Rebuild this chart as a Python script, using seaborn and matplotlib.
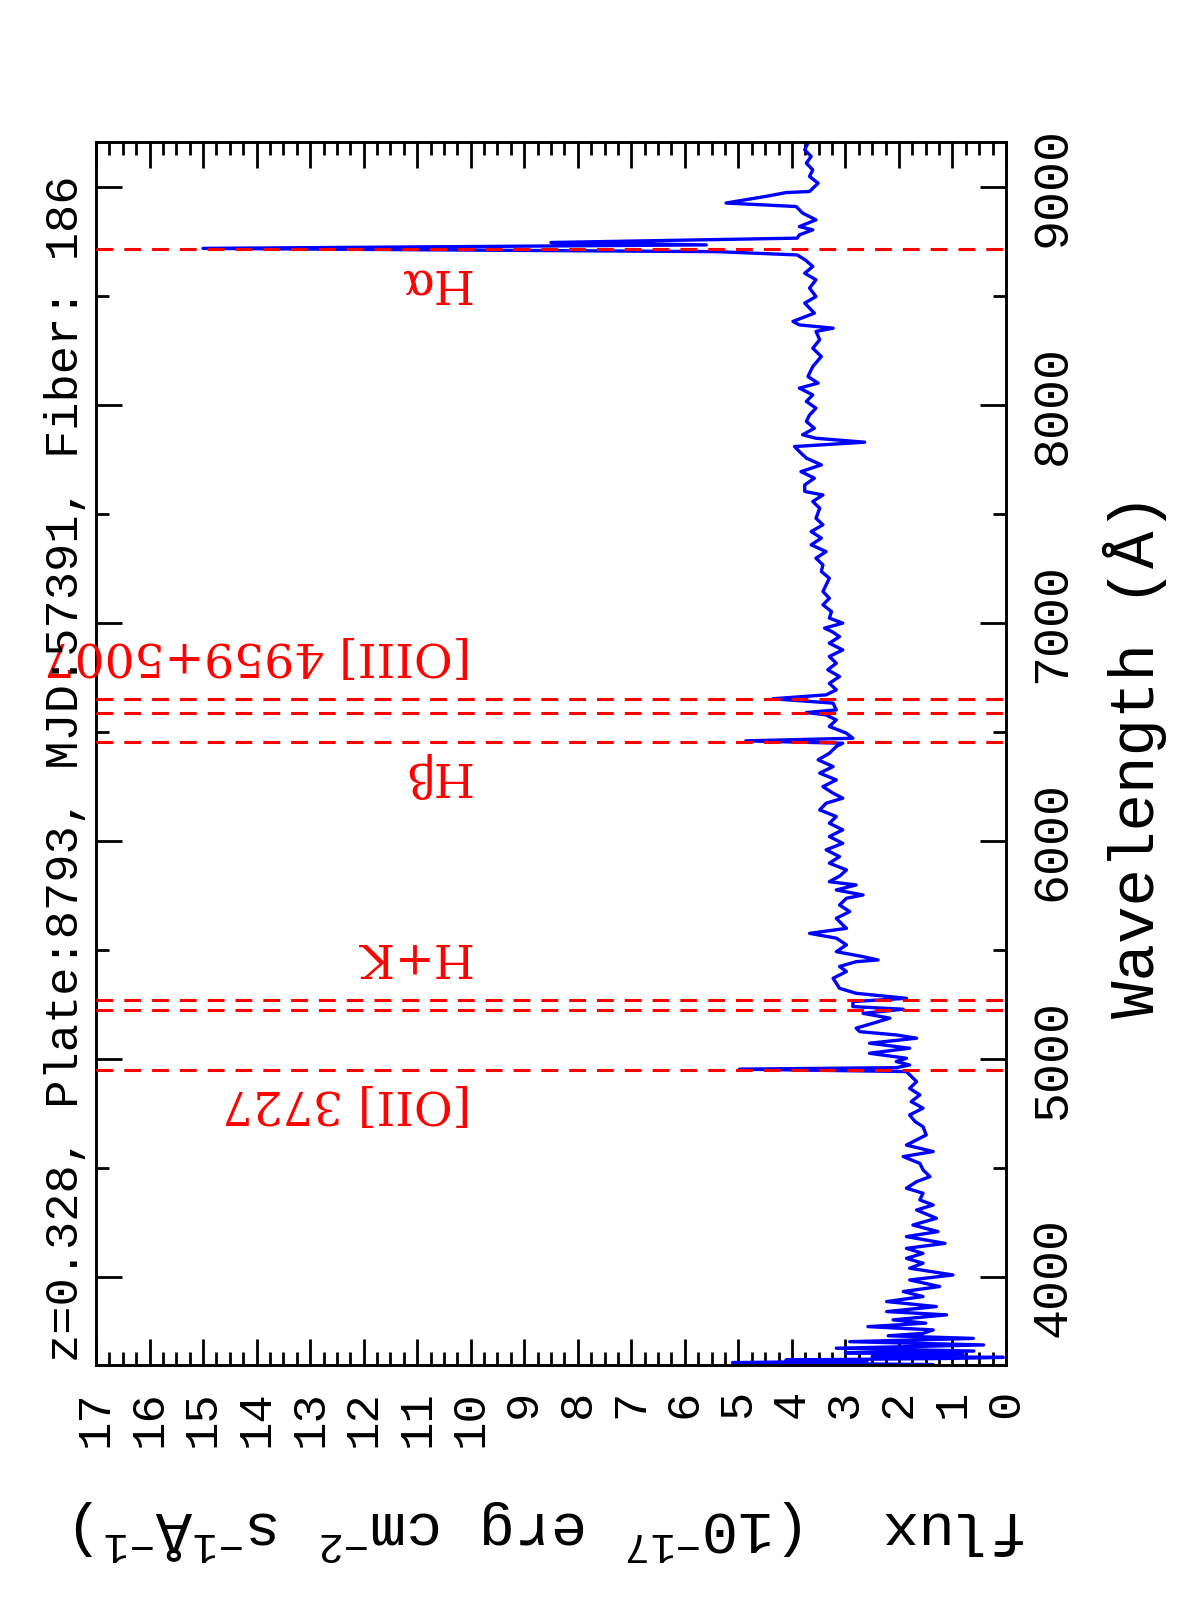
import numpy as np
import pandas as pd
import matplotlib
matplotlib.use("Agg")
import matplotlib.pyplot as plt
import seaborn as sns
from matplotlib.ticker import MultipleLocator, FixedLocator

# ---------------- data ----------------
wave = [3598, 3607, 3614, 3619, 3626, 3631, 3636, 3645, 3652, 3660, 3673, 3688, 3703, 3718,
        3730, 3741, 3757, 3772, 3788, 3803, 3826, 3841, 3864, 3887, 3910, 3933, 3956, 3986,
        4009, 4040, 4063, 4085, 4108, 4131, 4154, 4185, 4208, 4238, 4269, 4307, 4330, 4353,
        4384, 4407, 4437, 4460, 4491, 4521, 4552, 4575, 4605, 4651, 4689, 4713, 4743, 4774,
        4804, 4835, 4865, 4896, 4927, 4942, 4953, 4960, 4972, 4988, 5003, 5026, 5049, 5072,
        5095, 5110, 5125, 5141, 5164, 5187, 5209, 5228, 5240, 5263, 5278, 5301, 5324, 5347,
        5370, 5401, 5424, 5446, 5454, 5469, 5492, 5523, 5554, 5576, 5599, 5615, 5645, 5676,
        5706, 5737, 5752, 5775, 5798, 5813, 5840, 5867, 5898, 5928, 5959, 5989, 6020, 6051,
        6081, 6112, 6142, 6173, 6196, 6219, 6249, 6280, 6311, 6341, 6372, 6402, 6433, 6448,
        6459, 6471, 6494, 6525, 6555, 6578, 6589, 6601, 6632, 6652, 6670, 6693, 6723, 6754,
        6785, 6815, 6846, 6876, 6907, 6937, 6960, 6976, 6999, 7022, 7052, 7083, 7113, 7144,
        7175, 7205, 7236, 7266, 7297, 7327, 7358, 7389, 7419, 7450, 7480, 7526, 7557, 7587,
        7603, 7633, 7664, 7694, 7725, 7756, 7786, 7809, 7829, 7847, 7863, 7893, 7924, 7954,
        7985, 8016, 8046, 8077, 8100, 8130, 8176, 8222, 8260, 8299, 8337, 8352, 8367, 8383,
        8421, 8467, 8497, 8536, 8574, 8604, 8635, 8665, 8688, 8703, 8718, 8734, 8745, 8765,
        8780, 8803, 8818, 8849, 8880, 8910, 8926, 8959, 8974, 8979, 9017, 9048, 9078, 9109,
        9140, 9170, 9201]
flux = [1.36, 5.11, 2.60, 4.11, 1.10, 0.05, 2.50, 0.80, 3.00, 0.60, 3.17, 0.42, 2.92, 0.61,
        2.20, 1.55, 1.36, 2.58, 1.50, 2.11, 1.11, 2.23, 1.30, 2.23, 1.55, 1.92, 1.24, 1.80,
        0.99, 1.80, 1.55, 1.86, 1.55, 1.86, 1.14, 1.86, 1.27, 1.74, 1.30, 1.67, 1.36, 1.61,
        1.55, 1.86, 1.67, 1.42, 1.55, 1.61, 1.92, 1.36, 1.86, 1.49, 1.55, 1.70, 1.80, 1.55,
        1.77, 1.61, 1.80, 1.67, 1.80, 1.86, 4.98, 2.05, 1.80, 2.05, 1.86, 2.55, 1.80, 2.55,
        1.67, 2.05, 2.73, 2.80, 2.48, 2.17, 2.67, 1.92, 2.86, 2.86, 1.86, 2.80, 3.11, 3.17,
        3.23, 2.98, 3.11, 2.80, 2.39, 2.67, 3.17, 2.98, 3.17, 3.67, 2.98, 3.05, 3.17, 2.92,
        3.11, 2.98, 2.67, 3.17, 2.80, 3.30, 3.10, 2.98, 3.30, 3.11, 3.36, 3.05, 3.30, 3.05,
        3.30, 3.17, 3.48, 3.36, 3.05, 3.23, 3.42, 3.17, 3.48, 3.23, 3.51, 3.30, 3.17, 3.05,
        4.86, 2.86, 2.98, 3.30, 3.17, 3.36, 3.73, 3.17, 3.23, 4.36, 3.36, 3.17, 3.30, 3.11,
        3.33, 3.17, 3.30, 3.05, 3.30, 3.11, 3.25, 3.39, 3.05, 3.30, 3.26, 3.42, 3.30, 3.42,
        3.36, 3.30, 3.45, 3.42, 3.55, 3.36, 3.64, 3.45, 3.64, 3.42, 3.55, 3.48, 3.61, 3.42,
        3.76, 3.76, 3.58, 3.83, 3.45, 3.73, 3.86, 3.95, 2.64, 3.55, 3.80, 3.58, 3.73, 3.67,
        3.55, 3.73, 3.61, 3.86, 3.51, 3.70, 3.61, 3.45, 3.61, 3.48, 3.55, 3.23, 3.86, 3.98,
        3.58, 3.76, 3.55, 3.67, 3.55, 3.76, 3.61, 3.75, 3.90, 5.40, 15.00, 5.60, 8.50, 3.90,
        3.86, 3.61, 3.86, 3.55, 3.80, 3.92, 5.23, 4.43, 4.11, 3.67, 3.51, 3.67, 3.61, 3.73,
        3.64, 3.76, 3.70]

redshift = 0.328
line_rest = [3727.0, 3933.7, 3968.5, 4861.3, 4958.9, 5006.8, 6562.8]
label_names = ["[OII] 3727", "H+K", "H\u03b2", "[OIII] 4959+5007", "H\u03b1"]
label_rest = [3727.0, 3968.5, 4861.3, 5006.8, 6562.8]
label_side = [-1, 1, -1, 1, -1]

title = "z=0.328, Plate:8793, MJD:57391, Fiber: 186"
xlabel = "Wavelength (\u00c5)"
ylabel = "flux  (10$^{-17}$ erg cm$^{-2}$ s$^{-1}$\u00c5$^{-1}$)"
flux_ticks = list(range(0, 18))
wave_ticks = [4000, 5000, 6000, 7000, 8000, 9000]

# ---------------- style ----------------
sns.set_theme(style="ticks")
plt.rcParams['font.family'] = ['Liberation Mono', 'DejaVu Sans']
plt.rcParams['mathtext.fontset'] = 'custom'
plt.rcParams['mathtext.rm'] = 'Liberation Mono'
plt.rcParams['mathtext.it'] = 'Liberation Mono'
plt.rcParams['mathtext.bf'] = 'Liberation Mono'

W, H = 1196, 1600
fig = plt.figure(figsize=(W / 100, H / 100), dpi=100)
fig.patch.set_facecolor('white')
ax_l, ax_r, ax_t, ax_b = 96, 1006, 142, 1365
ax = fig.add_axes([ax_l / W, 1 - ax_b / H, (ax_r - ax_l) / W, (ax_b - ax_t) / H])
ax.set_facecolor('white')

df = pd.DataFrame({"wave": wave, "flux": flux})
sns.lineplot(data=df, x="flux", y="wave", sort=False, estimator=None, orient="y",
             color="blue", linewidth=2.4, ax=ax, zorder=2)

for lr in line_rest:
    ax.axhline(lr * (1 + redshift), color="red", linewidth=2.2,
               linestyle=(0, (5.5, 3.6)), zorder=3)

for name, lr, side in zip(label_names, label_rest, label_side):
    lam = lr * (1 + redshift)
    base = lam - 92 if side < 0 else lam + 262
    ax.text(10, base, name, rotation=180, rotation_mode='anchor', ha='left',
            va='baseline', color='red', fontsize=34,
            family=['DejaVu Serif'], zorder=4)

ax.set_xlim(17, 0)
ax.set_ylim(3596, 9206)
ax.set_xlabel("")
ax.set_ylabel("")

ax.xaxis.set_major_locator(FixedLocator(flux_ticks))
ax.xaxis.set_minor_locator(MultipleLocator(0.25))
ax.yaxis.set_major_locator(FixedLocator(wave_ticks))
ax.yaxis.set_minor_locator(MultipleLocator(500))
ax.set_xticklabels([str(t) for t in flux_ticks])
ax.set_yticklabels([str(t) for t in wave_ticks])

ax.tick_params(axis='both', which='both', direction='in', colors='black',
               top=True, bottom=True, left=True, right=True)
ax.tick_params(axis='both', which='major', length=18.5, width=2.0)
ax.tick_params(axis='both', which='minor', length=9.3, width=2.0)
ax.tick_params(axis='x', labelbottom=True, labeltop=False, labelsize=34,
               pad=18, labelrotation=90)
ax.tick_params(axis='y', labelleft=False, labelright=True, labelsize=36,
               pad=17, labelrotation=90)
for lab in ax.get_yticklabels():
    lab.set_va('center')
    lab.set_ha('left')

for sp in ax.spines.values():
    sp.set_linewidth(2.1)
    sp.set_color('black')
    sp.set_visible(True)

fig.text(66 / W, 1 - 1362 / H, title, rotation=90, ha='center', va='bottom',
         fontsize=33.8, color='black')
fig.text(1135 / W, 1 - 755 / H, xlabel, rotation=90, ha='center', va='center',
         fontsize=45, color='black')
fig.text(551 / W, 1 - 1530 / H, ylabel, rotation=180, ha='center', va='center',
         fontsize=43.5, color='black')

fig.savefig("out.png", dpi=100, facecolor='white')
